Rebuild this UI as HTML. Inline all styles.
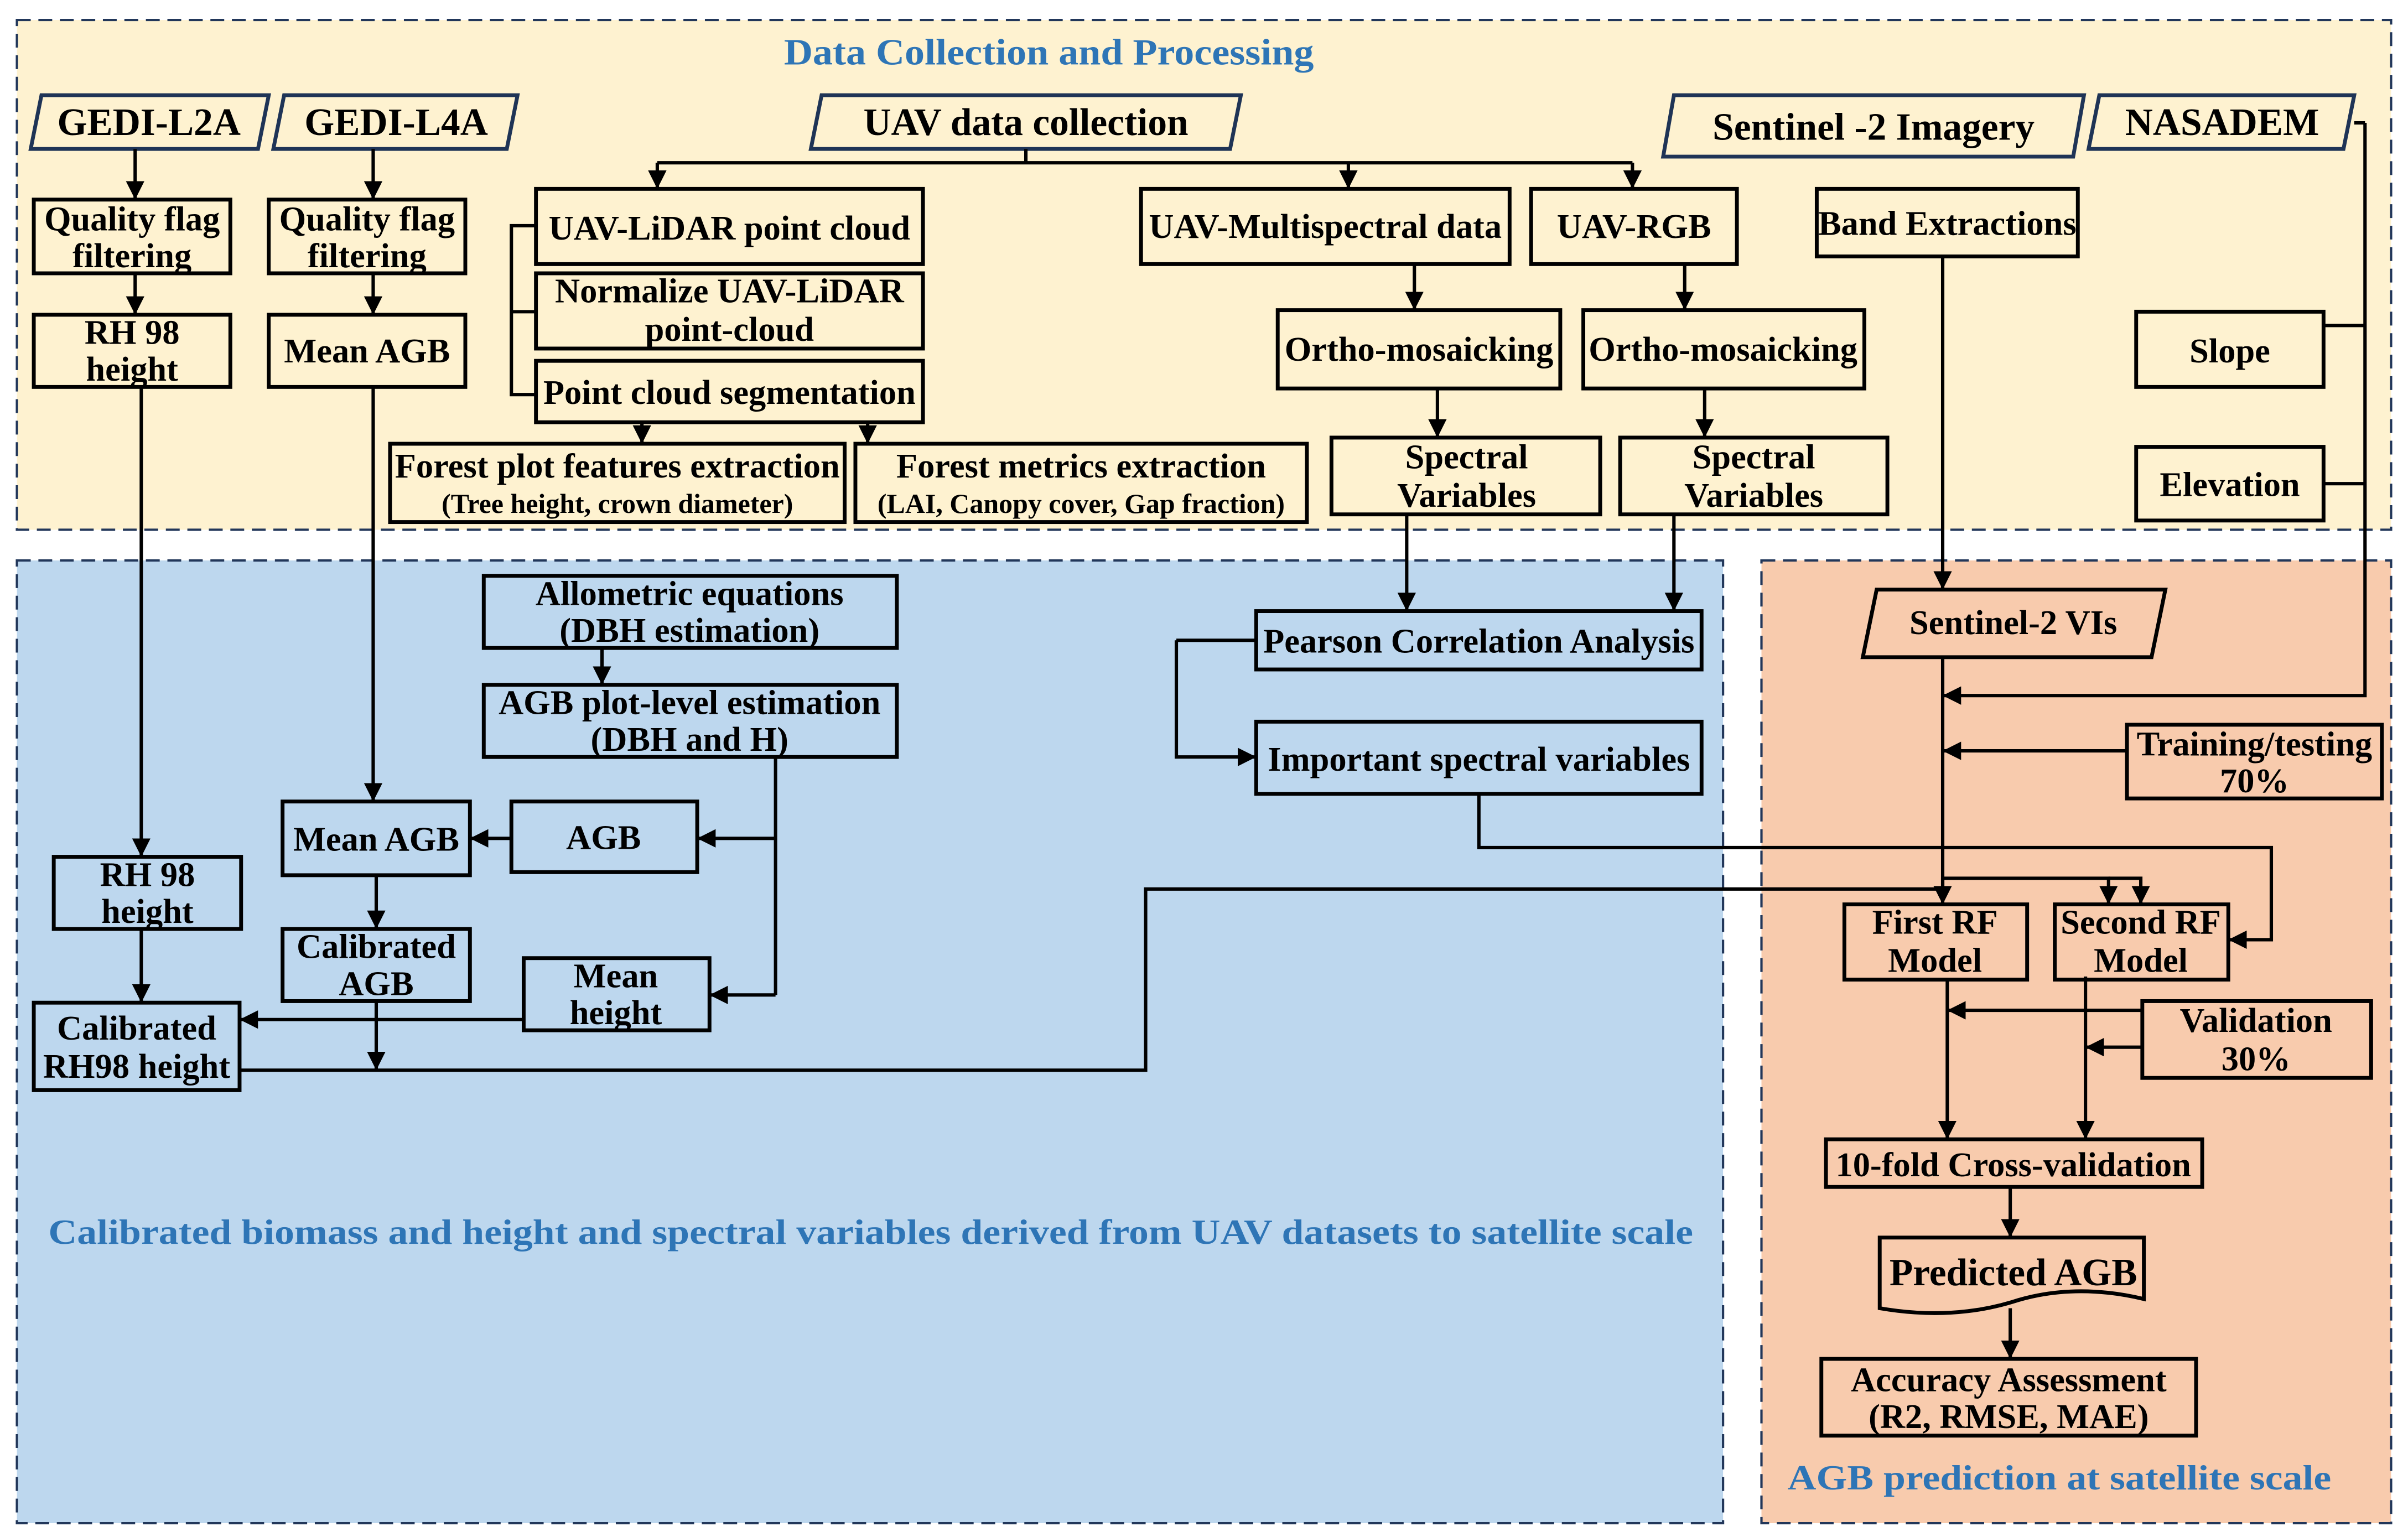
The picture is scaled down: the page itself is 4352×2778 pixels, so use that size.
<!DOCTYPE html>
<html><head><meta charset="utf-8"><style>
html,body{margin:0;padding:0;background:#fff}
svg{display:block}
text{font-family:"Liberation Serif",serif;font-weight:bold;fill:#000;text-anchor:middle}
</style></head><body>
<svg width="4352" height="2778" viewBox="0 0 1568 1001" preserveAspectRatio="none" xmlns="http://www.w3.org/2000/svg">
<defs><marker id="b" viewBox="0 0 10 10" refX="10" refY="5" markerWidth="12" markerHeight="12" orient="auto" markerUnits="userSpaceOnUse"><path d="M0,0 L10,5 L0,10 z" fill="#000"/></marker></defs>
<rect width="1568" height="1001" fill="#fff"/>
<rect x="11" y="13" width="1546" height="332" fill="#fef2d0" stroke="#22375a" stroke-width="1.5" stroke-dasharray="9,5"/>
<rect x="11" y="365" width="1111" height="627" fill="#bdd7ee" stroke="#22375a" stroke-width="1.5" stroke-dasharray="9,5"/>
<rect x="1147" y="365" width="410" height="627" fill="#f8cbad" stroke="#22375a" stroke-width="1.5" stroke-dasharray="9,5"/>
<text x="683" y="42" font-size="24" textLength="345" lengthAdjust="spacingAndGlyphs" style="fill:#2e75b6">Data Collection and Processing</text>
<text x="567" y="810" font-size="23" textLength="1071" lengthAdjust="spacingAndGlyphs" style="fill:#2e75b6">Calibrated biomass and height and spectral variables derived from UAV datasets to satellite scale</text>
<text x="1341" y="970" font-size="23" textLength="354" lengthAdjust="spacingAndGlyphs" style="fill:#2e75b6">AGB prediction at satellite scale</text>
<g fill="none" stroke="#1f3456" stroke-width="2.5">
<polygon points="27,62 175,62 168,97 20,97"/>
<polygon points="185,62 337,62 330,97 178,97"/>
<polygon points="535,62 808,62 801,97 528,97"/>
<polygon points="1090,62 1357,62 1350,102 1083,102"/>
<polygon points="1367,62 1533,62 1526,97 1360,97"/>
</g>
<polygon points="1222,384 1410,384 1401,428 1213,428" fill="none" stroke="#000" stroke-width="2.5"/>
<path d="M1224,806 H1396 V846 Q1350,835 1310,848 Q1270,860 1224,852 Z" fill="none" stroke="#000" stroke-width="2.5"/>
<g fill="none" stroke="#000" stroke-width="2.5">
<rect x="22" y="130" width="128" height="48"/><rect x="22" y="205" width="128" height="47"/>
<rect x="175" y="130" width="128" height="48"/><rect x="175" y="205" width="128" height="47"/>
<rect x="349" y="123" width="252" height="49"/><rect x="349" y="178" width="252" height="49"/>
<rect x="349" y="235" width="252" height="40"/>
<rect x="254" y="289" width="296" height="51"/><rect x="557" y="289" width="294" height="51"/>
<rect x="743" y="123" width="240" height="49"/><rect x="997" y="123" width="134" height="49"/>
<rect x="832" y="202" width="184" height="51"/><rect x="1031" y="202" width="183" height="51"/>
<rect x="867" y="285" width="175" height="50"/><rect x="1055" y="285" width="174" height="50"/>
<rect x="1183" y="123" width="170" height="44"/>
<rect x="1391" y="203" width="122" height="49"/><rect x="1391" y="291" width="122" height="48"/>
<rect x="315" y="375" width="269" height="47"/><rect x="315" y="446" width="269" height="47"/>
<rect x="184" y="522" width="122" height="48"/><rect x="333" y="522" width="121" height="46"/>
<rect x="35" y="558" width="122" height="47"/><rect x="184" y="605" width="122" height="47"/>
<rect x="341" y="624" width="121" height="47"/><rect x="22" y="653" width="134" height="57"/>
<rect x="818" y="398" width="290" height="38"/><rect x="818" y="470" width="290" height="47"/>
<rect x="1385" y="472" width="166" height="48"/>
<rect x="1201" y="589" width="119" height="49"/><rect x="1338" y="589" width="113" height="49"/>
<rect x="1395" y="652" width="149" height="50"/>
<rect x="1189" y="742" width="245" height="31"/>
<rect x="1186" y="885" width="244" height="50"/>
</g>
<g fill="none" stroke="#000" stroke-width="2.2" marker-end="url(#b)">
<path d="M88,97 V130"/><path d="M88,178 V205"/><path d="M92,252 V558"/>
<path d="M243,97 V130"/><path d="M243,178 V205"/><path d="M243,252 V522"/>
<path d="M428,106 V123"/><path d="M878,106 V123"/><path d="M1063,106 V123"/>
<path d="M418,275 V289"/><path d="M565,275 V289"/>
<path d="M921,172 V202"/><path d="M936,253 V285"/>
<path d="M1097,172 V202"/><path d="M1110,253 V285"/>
<path d="M916,335 V398"/><path d="M1090,335 V398"/>
<path d="M766,417 V493 H818"/>
<path d="M963,517 V552 H1479 V612 H1451"/>
<path d="M1265,167 V384"/>
<path d="M1540,80 V453 H1265"/>
<path d="M1265,428 V589"/>
<path d="M1385,489 H1265"/>
<path d="M392,422 V446"/>
<path d="M505,546 H454"/><path d="M505,648 H462"/>
<path d="M333,546 H306"/>
<path d="M245,570 V605"/><path d="M245,652 V697"/>
<path d="M92,605 V653"/>
<path d="M341,664 H156"/>
<path d="M1265,572 H1373 V589"/><path d="M1373,572 H1394 V589"/>
<path d="M1395,658 H1268"/><path d="M1395,682 H1358"/>
<path d="M1268,638 V742"/><path d="M1358,636 V742"/>
<path d="M1309,773 V806"/><path d="M1309,852 V885"/>
</g>
<g fill="none" stroke="#000" stroke-width="2.2">
<path d="M668,97 V106 M428,106 H1063"/>
<path d="M349,147 H333 V257 H349 M333,203 H349"/>
<path d="M505,493 V648"/>
<path d="M1533,80 H1540 M1513,212 H1540 M1513,315 H1540"/>
<path d="M818,417 H766"/>
<path d="M156,697 H746 V579 H1265 V572"/>
</g>
<g font-size="22.5">
<text x="97" y="88" font-size="25">GEDI-L2A</text>
<text x="258" y="88" font-size="25">GEDI-L4A</text>
<text x="668" y="88" font-size="25">UAV data collection</text>
<text x="1220" y="91" font-size="25">Sentinel -2 Imagery</text>
<text x="1447" y="88" font-size="25">NASADEM</text>
<text x="86" y="150">Quality flag</text><text x="86" y="174">filtering</text>
<text x="86" y="224">RH 98</text><text x="86" y="248">height</text>
<text x="239" y="150">Quality flag</text><text x="239" y="174">filtering</text>
<text x="239" y="236">Mean AGB</text>
<text x="475" y="156">UAV-LiDAR point cloud</text>
<text x="475" y="197">Normalize UAV-LiDAR</text><text x="475" y="222">point-cloud</text>
<text x="475" y="263">Point cloud segmentation</text>
<text x="402" y="311">Forest plot features extraction</text>
<text x="402" y="334" font-size="18">(Tree height, crown diameter)</text>
<text x="704" y="311">Forest metrics extraction</text>
<text x="704" y="334" font-size="18">(LAI, Canopy cover, Gap fraction)</text>
<text x="863" y="155">UAV-Multispectral data</text>
<text x="1064" y="155">UAV-RGB</text>
<text x="924" y="235">Ortho-mosaicking</text>
<text x="1122" y="235">Ortho-mosaicking</text>
<text x="955" y="305">Spectral</text><text x="955" y="330">Variables</text>
<text x="1142" y="305">Spectral</text><text x="1142" y="330">Variables</text>
<text x="1268" y="153">Band Extractions</text>
<text x="1452" y="236">Slope</text><text x="1452" y="323">Elevation</text>
<text x="449" y="394">Allometric equations</text><text x="449" y="418">(DBH estimation)</text>
<text x="449" y="465">AGB plot-level estimation</text><text x="449" y="489">(DBH and H)</text>
<text x="245" y="554">Mean AGB</text><text x="393" y="553">AGB</text>
<text x="96" y="577">RH 98</text><text x="96" y="601">height</text>
<text x="245" y="624">Calibrated</text><text x="245" y="648">AGB</text>
<text x="401" y="643">Mean</text><text x="401" y="667">height</text>
<text x="89" y="677">Calibrated</text><text x="89" y="702">RH98 height</text>
<text x="963" y="425">Pearson Correlation Analysis</text>
<text x="963" y="502">Important spectral variables</text>
<text x="1311" y="413">Sentinel-2 VIs</text>
<text x="1468" y="492">Training/testing</text><text x="1468" y="516">70%</text>
<text x="1260" y="608">First RF</text><text x="1260" y="633">Model</text>
<text x="1394" y="608">Second RF</text><text x="1394" y="633">Model</text>
<text x="1469" y="672">Validation</text><text x="1469" y="697">30%</text>
<text x="1311" y="766">10-fold Cross-validation</text>
<text x="1311" y="837" font-size="25">Predicted AGB</text>
<text x="1308" y="906">Accuracy Assessment</text><text x="1308" y="930">(R2, RMSE, MAE)</text>
</g>
</svg>
</body></html>
